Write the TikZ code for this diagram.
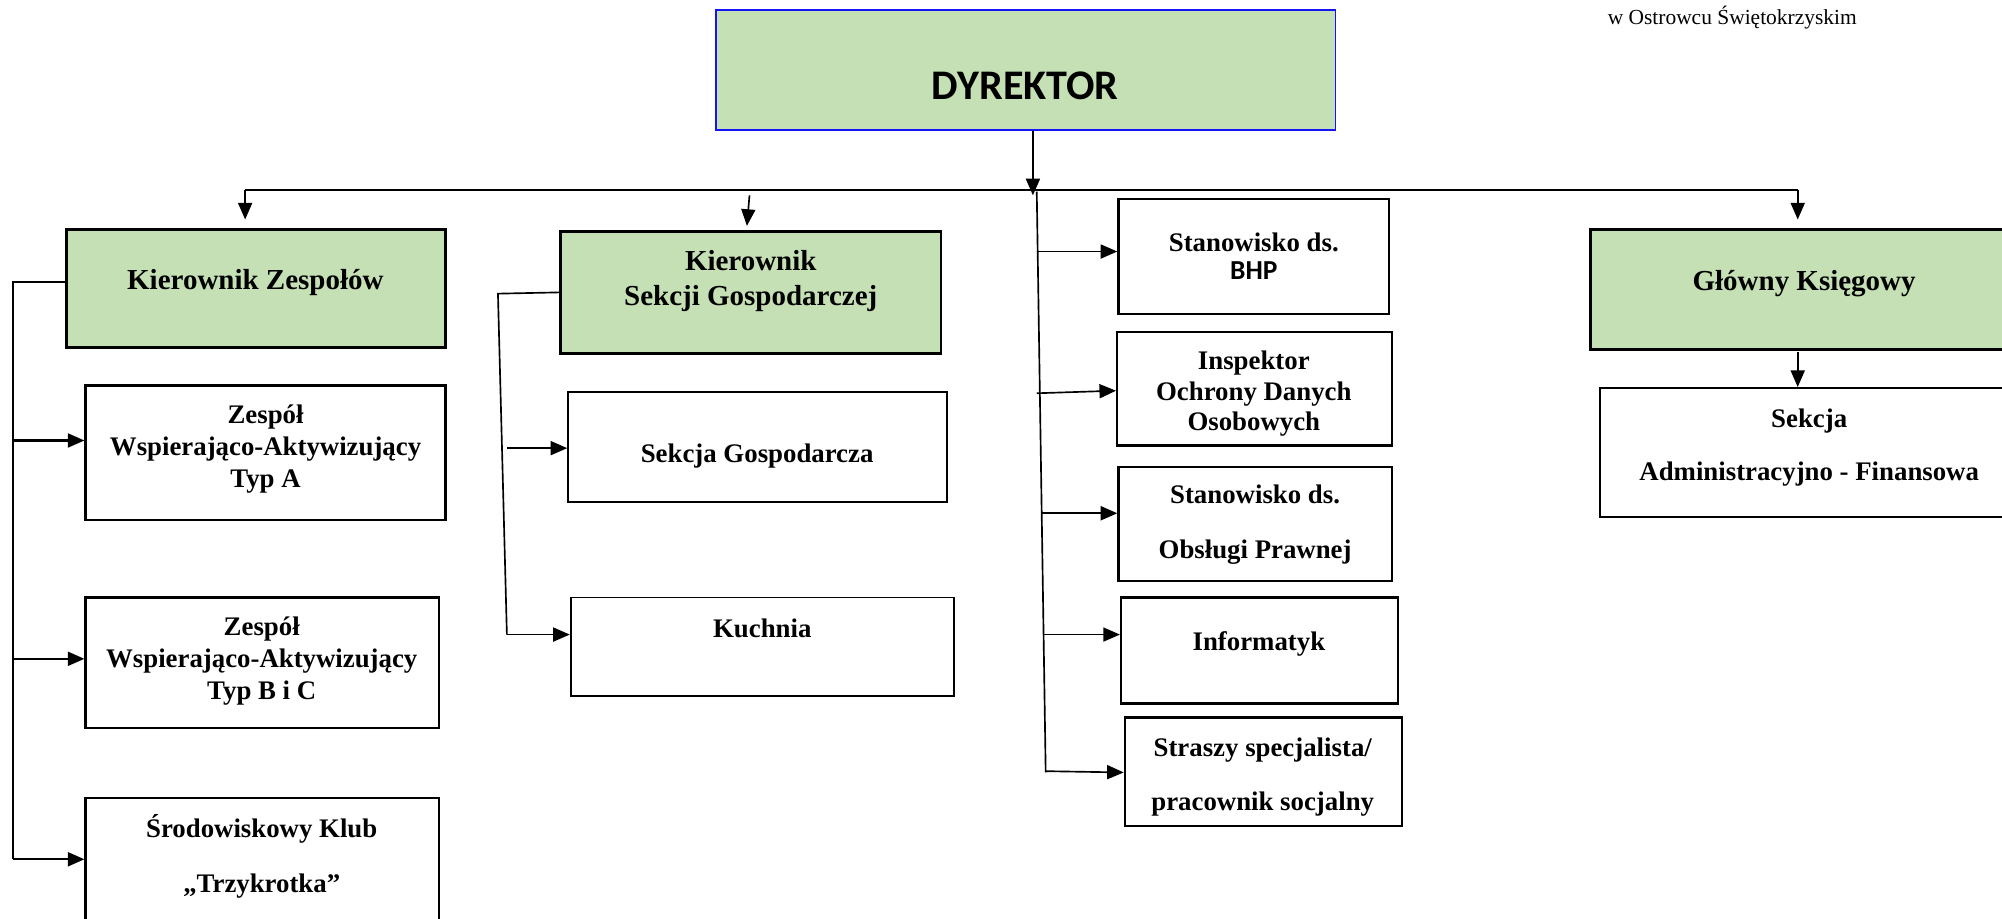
\documentclass[tikz,border=0pt]{standalone}
\usepackage{fontspec}
\setmainfont{Liberation Serif}
\newfontfamily\carl{Carlito}
\usetikzlibrary{arrows.meta,calc}
\definecolor{boxgreen}{HTML}{C5E0B4}
\definecolor{dirblue}{HTML}{1414F5}
\begin{document}
\begin{tikzpicture}[x=1pt,y=-1pt,
  box/.style={draw=black, line width=1.8pt, fill=white, inner sep=0pt},
  gbox/.style={box, fill=boxgreen, line width=2.2pt},
  lbl/.style={font=\bfseries\fontsize{21}{25}\selectfont, align=center, inner sep=0pt, yshift=-2.5pt},
  glbl/.style={font=\bfseries\fontsize{22.7}{27}\selectfont, align=center, inner sep=0pt, yshift=-2.5pt},
  con/.style={line width=1.3pt},
  arr/.style={con, -{Triangle[length=13pt,width=11pt]}}]
\clip (0,0) rectangle (1568,719);
\fill[white] (0,0) rectangle (1568,719);

% header text
\node[anchor=base west, inner sep=0pt, font=\fontsize{16.8}{18}\selectfont] (hdr) at (1259,19.5) {w Ostrowcu Świętokrzyskim};

% boxes
\node[box, draw=dirblue, fill=boxgreen, line width=1.5pt, minimum width=485pt, minimum height=94pt] (dyr) at (803.5,55) {};
\node[gbox, minimum width=297pt, minimum height=92pt] (kz) at (200.5,226) {};
\node[gbox, minimum width=298pt, minimum height=96pt] (ks) at (588,229) {};
\node[gbox, minimum width=329pt, minimum height=94pt] (gk) at (1410.5,227) {};
\node[box, minimum width=328pt, minimum height=101pt] (sa) at (1417,354.5) {};
\node[box, minimum width=282pt, minimum height=105pt] (za) at (208,354.5) {};
\node[box, minimum width=277pt, minimum height=102pt] (zb) at (205.5,519) {};
\node[box, minimum width=277pt, minimum height=115pt] (sk) at (205.5,682.5) {};
\node[box, line width=1.5pt, minimum width=297pt, minimum height=86pt] (sg) at (593.5,350) {};
\node[box, line width=1.5pt, minimum width=300pt, minimum height=77pt] (ku) at (597,506.5) {};
\node[box, minimum width=212pt, minimum height=90pt] (bhp) at (982,201) {};
\node[box, minimum width=215pt, minimum height=89pt] (odo) at (982.5,304.5) {};
\node[box, minimum width=214pt, minimum height=89pt] (op) at (983,410.5) {};
\node[box, minimum width=217pt, minimum height=83pt] (inf) at (986.5,509.5) {};
\node[box, minimum width=217pt, minimum height=85pt] (ss) at (989.5,604.5) {};

% texts
\node[inner sep=0pt, font=\carl\bfseries\fontsize{33}{36}\selectfont] (tdyr) at (803,67) {DYREKTOR};
\node[glbl] (tkz) at (200,219) {Kierownik Zespołów};
\node[glbl] (tks) at (588,217.5) {Kierownik\\Sekcji Gospodarczej};
\node[glbl] (tgk) at (1413,220) {Główny Księgowy};
\node[lbl, font=\bfseries\fontsize{21}{42}\selectfont] (tsa) at (1417,348) {Sekcja\\Administracyjno - Finansowa};
\node[lbl] (tza) at (208,349) {Zespół\\Wspierająco-Aktywizujący\\Typ A};
\node[lbl] (tzb) at (205,515.5) {Zespół\\Wspierająco-Aktywizujący\\Typ B i C};
\node[lbl, font=\bfseries\fontsize{21}{43}\selectfont] (tsk) at (205,668.5) {Środowiskowy Klub\\„Trzykrotka”};
\node[lbl] (tsg) at (593,355) {Sekcja Gospodarcza};
\node[lbl] (tku) at (597,490) {Kuchnia};
\node[lbl] (tbhp1) at (982,187) {Stanowisko ds.};
\node[inner sep=0pt, font=\carl\bfseries\fontsize{21.5}{24}\selectfont] (tbhp2) at (982,212) {BHP};
\node[lbl, font=\bfseries\fontsize{21}{24}\selectfont] (todo) at (982,306) {Inspektor\\Ochrony Danych\\Osobowych};
\node[lbl, font=\bfseries\fontsize{21}{43}\selectfont] (top) at (983,408.5) {Stanowisko ds.\\Obsługi Prawnej};
\node[lbl] (tinf) at (986,502) {Informatyk};
\node[lbl, font=\bfseries\fontsize{21}{42}\selectfont] (tss) at (989,606) {Straszy specjalista/\\pracownik socjalny};

% top connectors
\coordinate (hL) at (192,149);
\coordinate (hR) at (1408,149);
\coordinate (hM) at (809,153);
\draw[arr] (dyr.south -| hM) -- (hM);
\draw[con, line width=1.5pt] (hL) -- (hR);
\draw[arr, shorten >=7pt] (hL) -- (hL |- kz.north);
\coordinate (ksA) at (587,153);
\draw[arr] (ksA) -- ($(ks.north)+(-3,-3)$);
\draw[arr, shorten >=7pt] (hR) -- (hR |- gk.north);
\coordinate (gkA) at (1408,276);
\draw[arr] (gkA) -- (gkA |- sa.north);

% centre branch
\coordinate (vT) at (812,150);
\coordinate (vB) at (819,605);
\draw[con] (vT) -- (vB);
\coordinate (b1) at (812,197);
\coordinate (b2) at (812,308);
\coordinate (b3) at (816,402);
\coordinate (b4) at (818,497);
\coordinate (b5) at (819,604);
\draw[arr] (b1) -- (b1 -| bhp.west);
\draw[arr] (b2) -- ($(odo.west)+(0,1.5)$);
\draw[arr] (b3) -- (b3 -| op.west);
\draw[arr] (b4) -- (b4 -| inf.west);
\draw[arr] (b5) -- ($(ss.west)+(0,0.5)$);

% left branch
\coordinate (l0) at (10,221);
\coordinate (l3) at (10,673);
\draw[con, line width=1.6pt] (l0 -| kz.west) -- (l0) -- (l3);
\coordinate (l1) at (10,345);
\coordinate (l2) at (10,516);
\draw[arr, line width=1.6pt] (l1) -- (l1 -| za.west);
\draw[arr, line width=1.6pt] (l2) -- (l2 -| zb.west);
\draw[arr, line width=1.6pt] (l3) -- (l3 -| sk.west);

% middle-left branch
\coordinate (m0) at (390,230);
\coordinate (mB) at (397,497);
\draw[con] (ks.west) -- (m0) -- (mB);
\coordinate (m1) at (397,351);
\draw[arr] (m1) -- (m1 -| sg.west);
\draw[arr] (mB) -- (mB -| ku.west);
\end{tikzpicture}
\end{document}
